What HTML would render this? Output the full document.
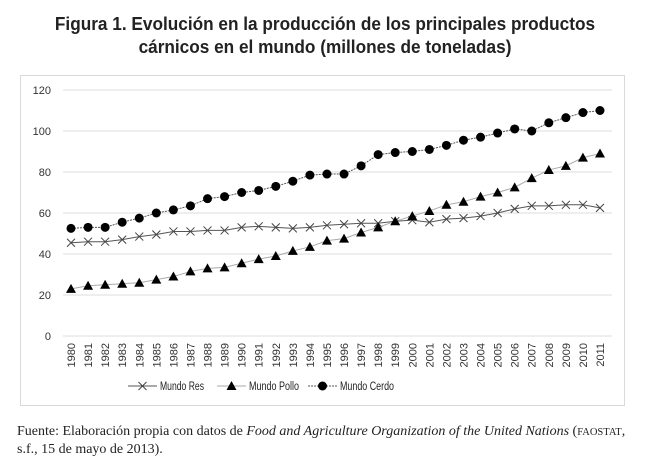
<!DOCTYPE html>
<html><head><meta charset="utf-8"><style>
html,body{margin:0;padding:0;background:#fff;}
body{width:650px;height:466px;position:relative;overflow:hidden;}
#title{position:absolute;left:0;top:12px;width:650px;text-align:center;font-family:"Liberation Sans",sans-serif;font-weight:bold;font-size:18.5px;line-height:23px;color:#222;transform:scaleX(0.93);transform-origin:325px 0;}
#frame{position:absolute;left:20px;top:75px;width:605px;height:331px;border:1px solid #d9d9d9;box-sizing:border-box;}
#src{position:absolute;left:17px;top:423px;width:640px;white-space:nowrap;font-family:"Liberation Serif",serif;font-size:14px;line-height:17px;color:#222;}
#src .sc{font-size:10.5px;}
svg{position:absolute;left:0;top:0;}
</style></head><body>
<div id="title">Figura 1. Evolución en la producción de los principales productos<br>cárnicos en el mundo (millones de toneladas)</div>
<div id="frame"></div>
<svg id="chart" width="650" height="466"></svg>
<div id="src">Fuente: Elaboración propia con datos de <i>Food and Agriculture Organization of the United Nations</i> (<span class="sc">FAOSTAT</span>,<br>s.f., 15 de mayo de 2013).</div>
<script>
const years = [1980,1981,1982,1983,1984,1985,1986,1987,1988,1989,1990,1991,1992,1993,1994,1995,1996,1997,1998,1999,2000,2001,2002,2003,2004,2005,2006,2007,2008,2009,2010,2011];
const res = [45.5,46,46,47,48.5,49.5,51,51,51.5,51.5,53,53.5,53,52.5,53,54,54.5,55,55,56,56.5,55.5,57,57.5,58.5,60,62,63.5,63.5,64,64,62.5];
const pollo = [23,24.5,25,25.5,26,27.5,29,31.5,33,33.5,35.5,37.5,39,41.5,43.5,46.5,47.5,50.5,53,56,58.5,61,64,65.5,68,70,72.5,77,81,83,87,89];
const cerdo = [52.5,53,53,55.5,57.5,60,61.5,63.5,67,68,70,71,73,75.5,78.5,79,79,83,88.5,89.5,90,91,93,95.5,97,99,101,100,104,106.5,109,110];
const yTicks = [0,20,40,60,80,100,120];

const NS="http://www.w3.org/2000/svg";
const svg=document.getElementById('chart');
const x0=71, x1=600, yTop=90, yBot=336, yMax=120;
const xs=i=>x0+(x1-x0)*i/(years.length-1);
const ys=v=>yBot-(yBot-yTop)*v/yMax;
function mk(t,a,p){const e=document.createElementNS(NS,t);for(const k in a)e.setAttribute(k,a[k]);(p||svg).appendChild(e);return e;}
const F='"Liberation Sans",sans-serif';

yTicks.forEach(t=>{
  const g=mk('line',{x1:63,x2:612,y1:ys(t),y2:ys(t),stroke:'#e3e3e3','stroke-width':1.3});
  
  
  const l=mk('text',{x:51,y:ys(t)+4,'text-anchor':'end','font-family':F,'font-size':11,fill:'#333'});
  l.textContent=t;
  
  
});
years.forEach((yr,i)=>{
  const t=mk('text',{x:0,y:0,'text-anchor':'end','font-family':F,'font-size':11,fill:'#333',transform:`translate(${xs(i)+4},343) rotate(-90)`});
  t.textContent=yr;
  
  
});

function marker(type,x,y,name){
  let m;
  if(type==='x'){m=mk('path',{d:`M${x-4},${y-4}L${x+4},${y+4}M${x-4},${y+4}L${x+4},${y-4}`,stroke:'#444','stroke-width':1,fill:'none'});}
  else if(type==='tri'){m=mk('path',{d:`M${x},${y-5}L${x+5},${y+4}L${x-5},${y+4}Z`,fill:'#000'});}
  else {m=mk('circle',{cx:x,cy:y,r:4.5,fill:'#000'});}
  
  
}
function series(data,type,stroke,dash,name){
  const pts=data.map((v,i)=>xs(i)+','+ys(v)).join(' ');
  const l=mk('polyline',{points:pts,fill:'none',stroke:stroke,'stroke-width':1,'stroke-dasharray':dash});
  
  
  data.forEach((v,i)=>marker(type,xs(i),ys(v),name+'-point'));
}
series(res,'x','#555','none','mundo-res');
series(pollo,'tri','#aaa','none','mundo-pollo');
series(cerdo,'dot','#555','2,1','mundo-cerdo');

// legend
const legend=[['x','#555','none','Mundo Res',128,44],['tri','#aaa','none','Mundo Pollo',217,50],['dot','#555','2,1','Mundo Cerdo',308,54]];
legend.forEach(([type,st,da,label,lx,tw])=>{
  const ly=386;
  const ln=mk('line',{x1:lx,x2:lx+29,y1:ly,y2:ly,stroke:st,'stroke-width':1,'stroke-dasharray':da});
  
  
  marker(type,lx+14.5,ly,'legend-marker');
  const t=mk('text',{x:lx+32,y:ly+4,'font-family':F,'font-size':11.5,fill:'#222',textLength:tw,lengthAdjust:'spacingAndGlyphs'});
  t.textContent=label;
  
  
});
</script>
</body></html>
